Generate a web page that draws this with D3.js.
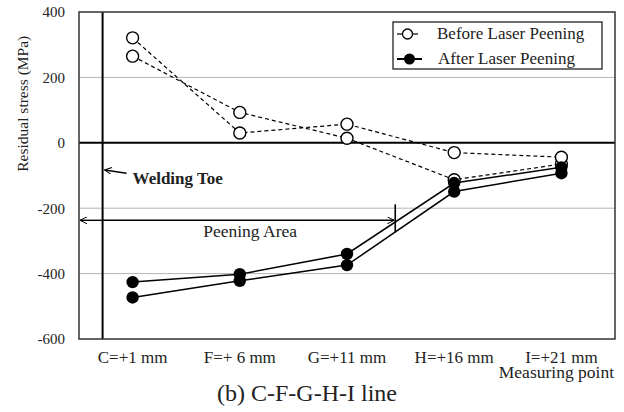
<!DOCTYPE html>
<html><head><meta charset="utf-8">
<script src="https://cdn.jsdelivr.net/npm/d3@7"></script>
<style>body{margin:0;background:#fff}svg{display:block}text{font-family:"Liberation Serif","Times New Roman",Times,serif;fill:#222}</style>
</head><body>
<svg id="chart" width="624" height="412"></svg>
<script>
const categories = ["C=+1 mm", "F=+ 6 mm", "G=+11 mm", "H=+16 mm", "I=+21 mm"];
const beforeA = [321, 30, 57, -30, -44];
const beforeB = [265, 93, 14, -113, -65];
const afterA = [-426, -402, -340, -123, -75];
const afterB = [-473, -422, -374, -149, -93];
const yTicks = [400, 200, 0, -200, -400, -600];
const gridValues = [200, -200, -400];
const seriesNames = ["Before Laser Peening", "After Laser Peening"];
const yTitle = "Residual stress (MPa)";
const xTitle = "Measuring point";
const caption = "(b) C-F-G-H-I line";

const W = 624, H = 412;
const margin = {left: 79, right: 9, top: 12, bottom: 73};
const FONT = '"Liberation Serif","Times New Roman",Times,serif';
const svg = d3.select("#chart");
svg.append("rect").attr("width", W).attr("height", H).attr("fill", "#fff");

const x = d3.scaleBand().domain(categories).range([margin.left, W - margin.right]).padding(0);
const bw = x.bandwidth();
const cx = c => x(c) + bw / 2;
const y = d3.scaleLinear().domain([-600, 400]).range([H - margin.bottom, margin.top]);

// gridlines
svg.append("g").selectAll("line").data(gridValues).join("line")
  .attr("x1", margin.left).attr("x2", W - margin.right)
  .attr("y1", d => y(d)).attr("y2", d => y(d))
  .attr("stroke", "#b4b4b4").attr("stroke-width", 1);

// zero line
svg.append("line").attr("x1", margin.left).attr("x2", W - margin.right)
  .attr("y1", y(0)).attr("y2", y(0)).attr("stroke", "#000").attr("stroke-width", 2);

// y axis labels
const yAxis = d3.axisLeft(y).tickValues(yTicks).tickSize(0).tickPadding(14).tickFormat(d => String(d));
const gy = svg.append("g").attr("transform", `translate(${margin.left},0)`).call(yAxis);
gy.select(".domain").remove();
gy.selectAll("text").style("font-size", "15px").style("font-family", FONT).attr("fill", "#222");

// x axis labels
const xAxis = d3.axisBottom(x).tickSize(0).tickPadding(12);
const gx = svg.append("g").attr("transform", `translate(0,${H - margin.bottom})`).call(xAxis);
gx.select(".domain").remove();
gx.selectAll("text").style("font-size", "17px").style("font-family", FONT).attr("fill", "#222");

// welding toe vertical line
const toeX = x(categories[0]) + bw * 0.22;
svg.append("line").attr("x1", toeX).attr("x2", toeX).attr("y1", y(400)).attr("y2", y(-600))
  .attr("stroke", "#000").attr("stroke-width", 2);

// arrow markers
const defs = svg.append("defs");
defs.append("marker").attr("id", "arr").attr("viewBox", "0 0 10 10").attr("refX", 10).attr("refY", 5)
  .attr("markerWidth", 9).attr("markerHeight", 7).attr("markerUnits", "userSpaceOnUse").attr("orient", "auto")
  .append("path").attr("d", "M0,0 L10,5 L0,10").attr("fill", "none").attr("stroke", "#000").attr("stroke-width", 1.4);

// welding toe annotation
svg.append("line").attr("x1", toeX + 24).attr("y1", y(-93)).attr("x2", toeX + 2).attr("y2", y(-83))
  .attr("stroke", "#000").attr("stroke-width", 1.4).attr("marker-end", "url(#arr)");
svg.append("text").attr("x", toeX + 30).attr("y", y(-125)).style("font-size", "17px").style("font-weight", "bold")
  .text("Welding Toe");

// peening area arrow
const peenEnd = x(categories[2]) + bw * 0.95;
const peenY = y(-237);
svg.append("line").attr("x1", toeX).attr("x2", margin.left + 1).attr("y1", peenY).attr("y2", peenY)
  .attr("stroke", "#000").attr("stroke-width", 1.4).attr("marker-end", "url(#arr)");
svg.append("line").attr("x1", toeX).attr("x2", peenEnd - 1).attr("y1", peenY).attr("y2", peenY)
  .attr("stroke", "#000").attr("stroke-width", 1.4).attr("marker-end", "url(#arr)");
svg.append("line").attr("x1", peenEnd).attr("x2", peenEnd).attr("y1", peenY - 16).attr("y2", peenY + 12)
  .attr("stroke", "#000").attr("stroke-width", 1.6);
svg.append("text").attr("x", (margin.left + peenEnd) / 2 + 13).attr("y", peenY + 17).attr("text-anchor", "middle")
  .style("font-size", "17.5px").text("Peening Area");

// series
const line = d3.line().x((d, i) => cx(categories[i])).y(d => y(d));
[beforeA, beforeB].forEach(s => {
  svg.append("path").datum(s).attr("d", line).attr("fill", "none").attr("stroke", "#000")
    .attr("stroke-width", 1.2).attr("stroke-dasharray", "4,3");
});
[beforeB, beforeA].forEach(s => {
  svg.append("g").selectAll("circle").data(s).join("circle")
    .attr("cx", (d, i) => cx(categories[i])).attr("cy", d => y(d)).attr("r", 6)
    .attr("fill", "#fff").attr("stroke", "#000").attr("stroke-width", 1.4);
});
[afterA, afterB].forEach(s => {
  svg.append("path").datum(s).attr("d", line).attr("fill", "none").attr("stroke", "#000").attr("stroke-width", 1.5);
});
[afterA, afterB].forEach(s => {
  svg.append("g").selectAll("circle").data(s).join("circle")
    .attr("cx", (d, i) => cx(categories[i])).attr("cy", d => y(d)).attr("r", 6.2)
    .attr("fill", "#000");
});

// plot border
svg.append("rect").attr("x", margin.left).attr("y", margin.top)
  .attr("width", W - margin.left - margin.right).attr("height", H - margin.top - margin.bottom)
  .attr("fill", "none").attr("stroke", "#333").attr("stroke-width", 1.5);

// legend
const lg = svg.append("g");
const lx = 393, ly = 22;
lg.append("rect").attr("x", lx).attr("y", ly).attr("width", 209).attr("height", 47)
  .attr("fill", "#fff").attr("stroke", "#222").attr("stroke-width", 1.3);
lg.append("line").attr("x1", lx + 4).attr("x2", lx + 9).attr("y1", ly + 12).attr("y2", ly + 12).attr("stroke", "#000").attr("stroke-width", 1.2);
lg.append("line").attr("x1", lx + 20).attr("x2", lx + 25).attr("y1", ly + 12).attr("y2", ly + 12).attr("stroke", "#000").attr("stroke-width", 1.2);
lg.append("circle").attr("cx", lx + 14.5).attr("cy", ly + 12).attr("r", 5).attr("fill", "#fff").attr("stroke", "#000").attr("stroke-width", 1.3);
lg.append("text").attr("x", lx + 44).attr("y", ly + 17).style("font-size", "17px").text(seriesNames[0]);
lg.append("line").attr("x1", lx + 4).attr("x2", lx + 29).attr("y1", ly + 37).attr("y2", ly + 37).attr("stroke", "#000").attr("stroke-width", 2);
lg.append("circle").attr("cx", lx + 16.5).attr("cy", ly + 37).attr("r", 5.5).attr("fill", "#000");
lg.append("text").attr("x", lx + 45).attr("y", ly + 42).style("font-size", "17px").text(seriesNames[1]);

// titles
svg.append("text").attr("transform", `translate(28,${(margin.top + y(-100)) / 2 + 10}) rotate(-90)`)
  .attr("text-anchor", "middle").style("font-size", "15.5px").text(yTitle);
svg.append("text").attr("x", 614).attr("y", 378).attr("text-anchor", "end").style("font-size", "17.5px").text(xTitle);
svg.append("text").attr("x", 307).attr("y", 401).attr("text-anchor", "middle").style("font-size", "24px").text(caption);
</script>
</body></html>
